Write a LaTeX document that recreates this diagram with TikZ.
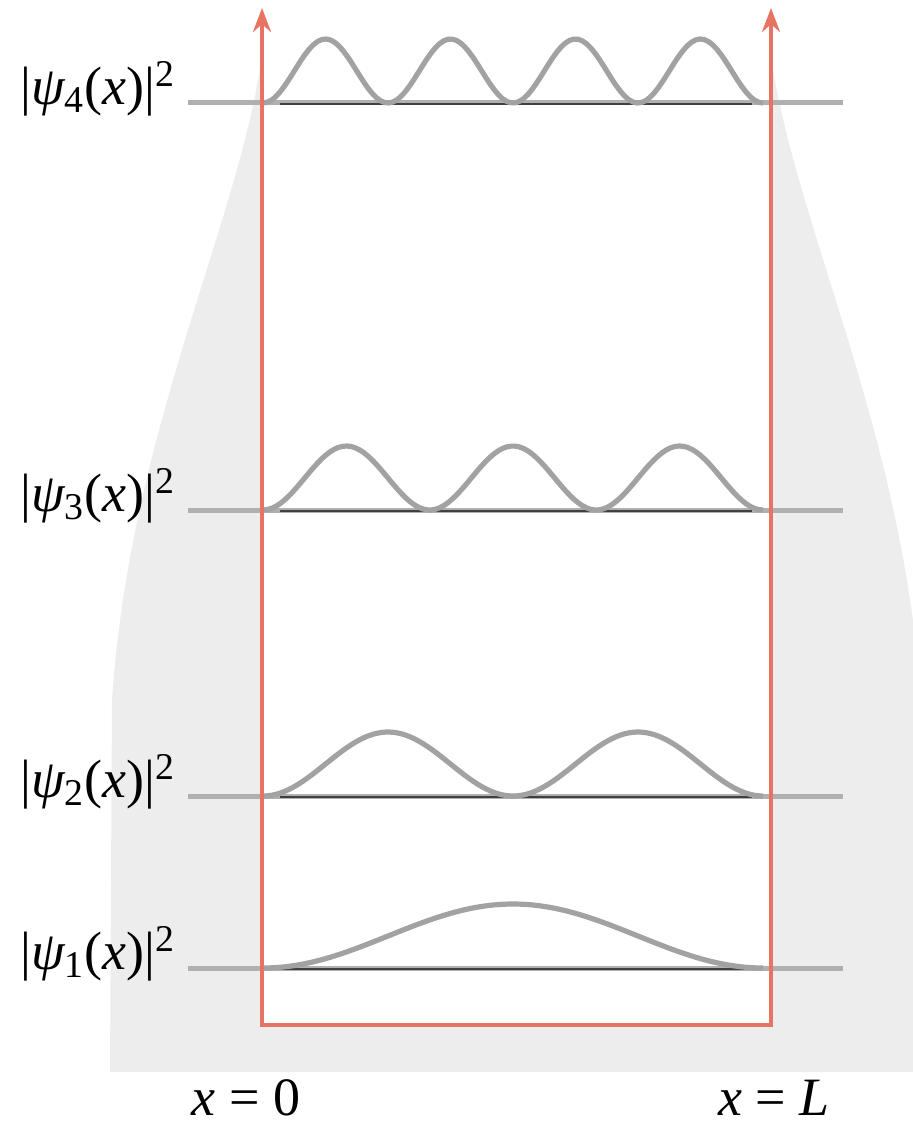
\documentclass[tikz,border=0pt]{standalone}
\usepackage{fontspec}
\setmainfont{Liberation Serif}
\usetikzlibrary{arrows.meta}
\definecolor{wallred}{RGB}{230,116,98}
\definecolor{curvegray}{RGB}{162,162,162}
\definecolor{shadegray}{RGB}{237,237,238}

\begin{document}
\begin{tikzpicture}[
	x=0.5pt, y=-0.5pt,
	every node/.style={font=\fontsize{27}{32}\selectfont},
	wall/.style={draw=wallred, line width=2pt},
	axis/.style={draw=curvegray!85, line width=2.5pt},
	floor/.style={draw=black!75, line width=1.1pt},
	prob/.style={draw=curvegray, line width=2.6pt, line join=round},
	lvl/.style={anchor=west, inner sep=0pt},
	foot/.style={inner sep=0pt}
]
\useasboundingbox (0,0) rectangle (912,1128);
\fill[shadegray] (262,55) .. controls (240,220) and (130,430) .. (112,700) -- (110,1072) -- (923,1072) -- (921,700) .. controls (903,430) and (793,220) .. (771,55) -- cycle;
\fill[white] (262,40) rectangle (771,1025);
\coordinate (leftTop) at (262,8);
\coordinate (leftBot) at (262,1025);
\coordinate (rightBot) at (771,1025);
\coordinate (rightTop) at (771,8);
\foreach \n/\yb in {1/968, 2/796, 3/510, 4/103} {
	\draw[axis] (188,\yb) -- (843,\yb);
	\draw[floor] (280,\yb+1) -- (752,\yb+1);
	\draw[prob] plot[domain=0:500, samples=120] ({263+\x}, {\yb-64*sin(\n*0.36*\x)*sin(\n*0.36*\x)});
	\node[lvl] (psi\n) at (20,\yb-14) {|{\itshape ψ}\textsubscript{\n}({\itshape x})|\textsuperscript{2}};
}
\draw[wall, {Stealth[length=12pt,width=9pt]}-{Stealth[length=12pt,width=9pt]}] (leftTop) -- (leftBot) -- (rightBot) -- (rightTop);
\node[foot] (xzero) at (246,1098) {{\itshape x} = 0};
\node[foot] (xlen) at (774,1098) {{\itshape x} = {\itshape L}};
\end{tikzpicture}
\end{document}
